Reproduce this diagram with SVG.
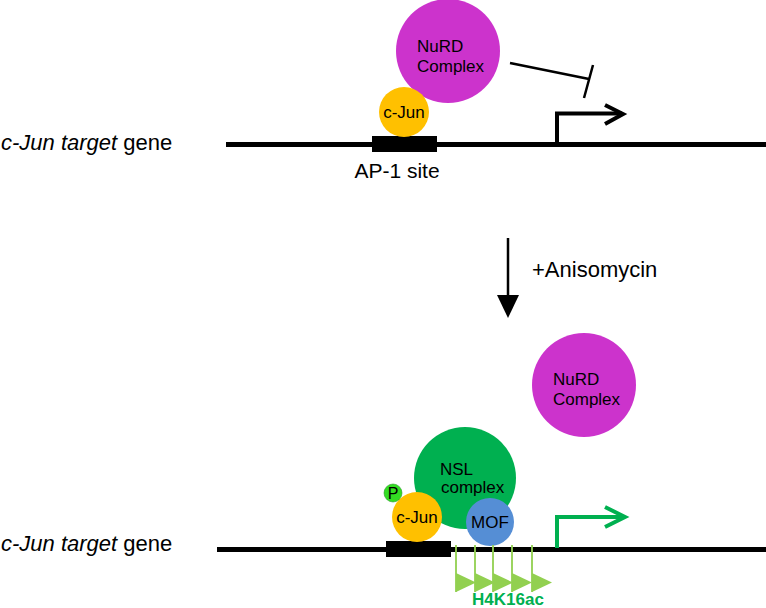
<svg xmlns="http://www.w3.org/2000/svg" width="766" height="608" viewBox="0 0 766 608">
<style>
text{font-family:"Liberation Sans",Arial,sans-serif;fill:#000}
.lbl{font-size:22px}
.node{font-size:17px}
.dna{stroke:#000;stroke-width:5;fill:none}
.site{fill:#000}
.mark{stroke:#92D050;stroke-width:1.8;fill:none}
.tri{fill:#92D050}
</style>
<rect width="766" height="608" fill="#fff"/>

<!-- Top panel -->
<g id="top-gene">
<text class="lbl" x="1" y="150"><tspan font-style="italic">c-Jun target</tspan> gene</text>
<line class="dna" x1="226" y1="144.5" x2="766" y2="144.5"/>
<rect class="site" x="372" y="136" width="65" height="16"/>
<text x="397" y="178" font-size="21" text-anchor="middle">AP-1 site</text>
</g>
<g id="top-nurd">
<circle cx="448" cy="51" r="52" fill="#CC33CC"/>
<text class="node" x="417" y="52">NuRD</text>
<text class="node" x="417" y="72">Complex</text>
</g>
<g id="top-cjun">
<circle cx="404" cy="112" r="25" fill="#FFC000"/>
<text class="node" x="404" y="118" text-anchor="middle">c-Jun</text>
</g>
<g id="top-promoter">
<path d="M557 143 V113.5 H622" stroke="#000" stroke-width="4" fill="none"/>
<path d="M605 105 L623 114 L605 124" stroke="#000" stroke-width="4" fill="none"/>
</g>

<!-- Treatment arrow -->
<g id="treatment">
<line x1="508" y1="238" x2="508" y2="297" stroke="#000" stroke-width="2.5"/>
<polygon points="497,295 519,295 508,318" fill="#000"/>
<text class="lbl" x="532" y="277">+Anisomycin</text>
</g>

<!-- Bottom panel -->
<g id="bottom-gene">
<text class="lbl" x="1" y="551"><tspan font-style="italic">c-Jun target</tspan> gene</text>
<line class="dna" x1="217" y1="549.5" x2="766" y2="549.5"/>
<rect class="site" x="386" y="541" width="65" height="16"/>
</g>
<g id="bottom-nurd">
<circle cx="584" cy="385" r="52" fill="#CC33CC"/>
<text class="node" x="553" y="385">NuRD</text>
<text class="node" x="553" y="405">Complex</text>
</g>
<g id="nsl">
<circle cx="465" cy="478" r="51" fill="#00B050"/>
<text class="node" x="440" y="475">NSL</text>
<text class="node" x="441" y="493">complex</text>
</g>
<g id="bottom-cjun">
<circle cx="417" cy="517" r="25" fill="#FFC000"/>
<text class="node" x="417" y="523" text-anchor="middle">c-Jun</text>
</g>
<g id="phospho">
<circle cx="393" cy="493" r="9" fill="#33DD22" stroke="#2a9a2a" stroke-width="0.6"/>
<text x="393" y="499" font-size="16" text-anchor="middle">P</text>
</g>
<g id="mof">
<circle cx="490" cy="522" r="24" fill="#558ED5"/>
<text class="node" x="490" y="528" text-anchor="middle">MOF</text>
</g>
<g id="bottom-promoter">
<path d="M557 548 V517 H624" stroke="#00B050" stroke-width="4" fill="none"/>
<path d="M605 507 L625 517 L605 527" stroke="#00B050" stroke-width="4" fill="none"/>
</g>
<g id="h4k16ac">
<path class="mark" d="M456 545 V592 M475 545 V592 M493 545 V592 M512 545 V592 M532 545 V592"/>
<polygon class="tri" points="456,573 476,582.5 456,592"/>
<polygon class="tri" points="475,573 495,582.5 475,592"/>
<polygon class="tri" points="493,573 513,582.5 493,592"/>
<polygon class="tri" points="512,573 532,582.5 512,592"/>
<polygon class="tri" points="532,573 552,582.5 532,592"/>
<text x="508" y="605" font-size="17" font-weight="bold" text-anchor="middle" style="fill:#00B050">H4K16ac</text>
</g>

<g id="connectors">
<line x1="510" y1="63" x2="589" y2="79" stroke="#000" stroke-width="2.5"/>
<line x1="593" y1="65" x2="584" y2="98" stroke="#000" stroke-width="2.5"/>
</g>
</svg>
